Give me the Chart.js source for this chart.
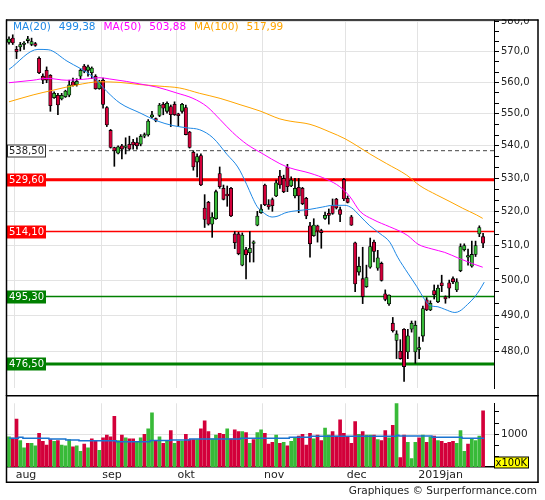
<!DOCTYPE html>
<html><head><meta charset="utf-8">
<script src="https://cdn.jsdelivr.net/npm/chart.js@4.4.1/dist/chart.umd.min.js"></script>
<style>
html,body{margin:0;padding:0;background:#fff;}
body{width:545px;height:500px;overflow:hidden;position:relative;}
canvas{position:absolute;left:0;}
#price{top:0}
#vol{top:395px}
</style></head><body>
<canvas id="price" width="545" height="396"></canvas>
<canvas id="vol" width="545" height="105"></canvas>
<script>
// ---------- DATA ----------
const opens = [
573.0,574.4,570.7,571.5,572.3,573.6,572.3,572.6,567.8,562.0,
563.9,562.3,555.1,555.9,554.7,555.4,555.9,560.2,559.3,562.0,
565.3,563.9,563.1,562.0,558.0,560.7,552.0,544.8,539.5,537.7,
540.0,539.5,540.5,541.2,541.0,540.5,543.0,543.4,549.0,548.5,
549.5,553.0,550.8,552.3,553.0,550.0,550.8,552.0,544.3,538.0,
535.0,537.0,521.1,522.8,516.3,517.9,531.5,527.0,525.3,527.0,
513.4,513.4,504.3,508.8,507.9,510.6,516.0,519.7,528.0,522.1,
523.6,524.7,530.7,530.0,533.5,527.7,524.7,527.3,527.0,524.0,
515.8,512.9,515.8,514.4,518.0,519.5,521.8,523.8,520.6,529.7,
524.0,518.5,510.8,502.3,500.4,498.1,503.7,511.0,503.4,504.8,
496.1,493.2,487.8,483.0,480.0,486.1,479.8,486.1,479.8,480.5,
484.2,494.4,491.5,497.0,493.8,499.2,495.2,499.2,500.4,497.2,
502.7,508.8,506.6,504.0,507.4,513.4,512.6];
const highs = [
574.8,575.5,571.7,573.0,573.3,575.0,574.4,573.0,568.3,562.8,
565.0,562.5,557.0,556.5,556.5,557.5,560.7,561.4,561.2,564.4,
565.8,565.6,565.0,562.5,560.7,561.4,552.3,545.1,539.6,540.0,
540.5,542.5,543.0,542.0,542.5,543.5,544.0,548.2,550.8,548.7,
553.3,553.6,553.8,552.8,553.8,550.2,553.3,552.8,544.5,538.5,
537.5,537.5,525.1,523.1,519.7,526.5,533.5,528.0,527.7,527.3,
514.1,513.9,513.7,509.5,514.1,511.4,520.1,522.1,528.3,523.6,
524.1,529.5,532.5,531.0,534.3,530.5,530.0,530.0,527.3,524.3,
516.8,517.9,516.0,514.8,519.9,520.8,523.8,524.0,521.4,530.0,
524.7,518.9,511.0,506.6,509.5,504.3,512.2,511.6,508.6,505.2,
497.2,495.8,489.4,485.7,483.2,486.3,486.1,488.4,488.4,483.9,
492.6,495.0,494.1,498.6,498.6,501.4,495.5,500.0,500.9,500.4,
510.5,510.5,509.0,511.3,511.3,515.8,513.6];
const lows = [
572.4,572.3,567.7,570.2,570.7,572.8,571.9,571.7,562.8,559.6,
559.9,550.8,554.9,549.7,554.4,555.2,555.4,558.8,558.8,561.2,
563.1,562.0,561.2,557.8,557.8,551.8,546.0,539.3,533.7,537.5,
536.0,537.5,538.7,539.0,539.0,540.0,542.5,543.0,548.7,547.5,
549.1,549.7,550.2,546.0,549.5,546.0,550.2,543.4,539.3,532.5,
530.5,527.8,515.3,516.0,512.4,517.7,527.0,523.5,521.6,518.5,
509.1,507.3,504.1,500.3,505.2,505.2,515.8,519.5,521.8,520.7,
520.1,524.5,527.0,525.7,526.0,527.5,524.1,519.7,522.1,517.9,
506.6,512.7,511.0,509.2,517.7,516.3,519.2,520.8,517.0,523.3,
522.6,515.9,496.7,501.4,493.3,497.9,503.4,505.2,502.8,499.7,
494.1,492.8,485.3,478.0,477.8,471.8,478.0,485.3,476.7,478.0,
482.7,491.3,491.3,494.6,493.6,496.7,493.4,494.9,499.0,496.7,
502.4,508.4,504.3,503.7,506.8,512.6,509.4];
const closes = [
574.1,572.8,569.9,572.3,572.8,574.2,573.3,572.0,563.1,560.7,
560.7,552.6,556.5,552.8,555.9,557.2,559.2,559.0,560.4,563.9,
563.6,565.0,564.6,558.0,560.2,553.0,546.5,539.5,538.5,539.7,
539.0,540.0,539.0,540.3,540.0,543.0,543.5,547.7,549.7,547.9,
552.8,551.8,553.3,549.7,549.7,549.4,553.0,543.5,539.5,533.5,
536.7,528.0,517.7,516.3,518.4,526.0,527.5,523.7,524.7,518.7,
510.8,507.6,513.1,507.3,509.2,511.1,518.7,520.8,522.1,521.4,
521.8,528.7,528.0,526.0,527.5,529.5,527.0,524.7,522.4,518.7,
510.5,516.0,514.3,513.8,518.9,518.9,519.5,521.1,519.2,523.8,
522.8,516.0,498.9,504.0,495.3,500.7,509.7,508.3,506.4,499.9,
494.5,495.7,485.7,484.8,478.0,475.8,484.3,487.8,487.2,481.0,
491.9,491.5,493.4,495.8,497.7,498.4,494.6,497.7,499.5,499.5,
509.7,510.0,507.1,507.4,510.0,515.3,510.7];
// volume in units of 100K
const volumes = [
940,913,1340,860,700,800,800,740,1020,840,
760,880,840,860,760,740,880,720,740,620,
780,700,900,860,640,920,980,940,1400,860,
980,920,900,900,840,920,1000,1120,1480,860,
940,800,850,1080,800,840,840,1000,880,880,
880,1120,1300,1060,900,980,1020,1000,1120,900,
1100,1060,1060,1040,800,880,1040,1100,1020,780,
820,980,800,820,740,840,920,960,1000,760,
1020,900,980,860,1140,980,1060,960,1320,1020,
940,800,1280,1000,1060,980,980,980,880,860,
1080,920,1200,1760,480,980,820,460,820,920,
980,820,940,960,860,840,800,820,840,800,
1080,620,780,900,860,960,1520];
const volUp = [
1,0,0,1,1,0,1,1,0,0,
0,0,1,0,1,1,1,0,1,1,
0,1,0,0,1,0,0,0,0,1,
0,1,0,0,1,1,0,1,1,0,
1,0,1,0,1,0,1,0,0,0,
1,0,0,0,1,1,0,0,1,0,
0,0,1,0,1,0,1,1,0,0,
0,1,0,1,0,1,1,0,0,0,
0,1,0,0,1,1,0,0,0,0,
0,0,0,1,0,1,1,0,1,0,
0,1,0,1,0,0,1,1,1,0,
1,0,1,0,1,0,0,0,0,1,
1,1,0,1,1,1,0];
// moving averages, read at sample sessions (x = session index)
const ma20X = [0,7.7,10.4,15.4,22.3,26.0,29.5,34.8,39.3,43.6,47.3,50.7,54.2,57.9,60.8,63.2,64.6,65.9,67.2,69.9,71.5,73.3,75.2,80.0,83.4,86.1,89.3,91.1,93.3,95.9,98.6,101.2,103.3,106.0,108.4,110.5,111.8,114.0,115.8,118.5,119.8,121.9,123.8,125.1,126.3];
const ma20Y = [564.2,570.7,570.6,566.9,561.8,557.1,553.4,550.3,547.8,546.3,545.6,545.0,542.5,537.4,533.5,528.1,524.5,521.6,520.1,518.4,518.7,519.6,520.1,520.7,521.4,521.9,521.9,521.1,518.7,515.8,513.5,511.0,506.6,502.0,498.1,494.4,492.8,492.4,491.7,490.8,491.2,493.1,495.2,497.2,499.4];
const ma50X = [0,6.4,10.1,15.4,19.7,24.2,26.8,31.3,34.8,39.3,44.6,48.9,52.6,56.1,59.5,63.2,67.5,72.0,74.7,80.0,84.5,87.9,90.6,93.3,96.7,101.2,103.9,106.0,108.7,112.4,115.8,119.3,123.0,125.9];
const ma50Y = [559.9,560.7,561.3,560.7,561.0,561.5,561.1,560.3,559.5,558.5,556.6,554.9,552.3,548.2,544.1,540.5,537.5,534.5,533.2,531.6,529.7,527.5,524.5,520.1,517.7,515.5,514.2,512.9,510.4,509.0,508.0,506.4,504.8,503.7];
const ma100X = [0,6.4,11.7,18.1,24.2,29.5,34.8,40.1,45.4,50.7,56.1,61.4,66.7,72.0,74.7,80.0,85.3,89.3,92.5,95.9,100.4,105.7,109.2,113.7,117.2,120.6,124.3,125.9];
const ma100Y = [553.8,556.0,557.5,559.2,560.2,560.0,559.3,558.8,558.2,556.5,554.9,552.9,550.9,548.4,547.7,546.7,544.3,542.2,540.0,537.5,534.5,531.0,527.8,525.0,523.0,521.0,519.0,518.0];
const volMaX = [0,2.5,3.7,10.6,15.1,18.6,28.5,37.5,43,48,61.5,74.5,80.3,103,103.6,112.4,120.4,126.3];
const volMaY = [913,933,913,893,873,853,833,858,873,893,913,933,955,980,960,933,913,913];
const monthLabels = ['aug','sep','okt','nov','dec','2019jan'];
const monthStart = [2,25,45,68,90,109];   // index of first session of each month
const priceTicks = [480,490,500,510,520,530,540,550,560,570,580];
const volTicks = [500,750,1000,1250,1500];
const volTickLabels = ['','','1000','',''];
const levels = [538.5,529.6,514.1,495.3,476.5];
const levelLabels = ['538,50','529,60','514,10','495,30','476,50'];
const legendNames = ['MA(20)','MA(50)','MA(100)'];
const legendValues = ['499,38','503,88','517,99'];

// ---------- STYLE ----------
const FONT = 'DejaVu Sans';
const GREEN = '#38ba38', RED = '#d3003a';
const maColors = ['#1e88e5','#ff00ff','#ffa500'];
const levelStyles = [
  {color:'#444', width:1, dash:[4,3], bg:'#fff', fg:'#222', border:'#333'},
  {color:'#ff0000', width:3, dash:[], bg:'#ff0000', fg:'#fff'},
  {color:'#ff0000', width:1.5, dash:[], bg:'#ff0000', fg:'#fff'},
  {color:'#008000', width:1.5, dash:[], bg:'#008000', fg:'#fff'},
  {color:'#008000', width:3, dash:[], bg:'#008000', fg:'#fff'}
];
const X_MIN = -0.53, X_MAX = 128.9;

const idx = opens.map((_, i) => i);
const pts = (xs, ys) => xs.map((x, i) => ({x, y: ys[i]}));
const wickData = idx.map(i => ({x: i, y: [lows[i], highs[i]]}));
const bodyData = idx.map(i => ({x: i, y: [opens[i], closes[i]]}));
const bodyColors = idx.map(i => closes[i] >= opens[i] ? GREEN : RED);
const volData = idx.map(i => ({x: i, y: volumes[i]}));
const volColors = idx.map(i => volUp[i] ? GREEN : RED);

const yTicks = [];
priceTicks.forEach((v, k) => {
  yTicks.push(v);
  if (k < priceTicks.length - 1) { const st = (priceTicks[k+1] - v) / 3; yTicks.push(v + st, v + 2*st); }
});
const isMajor = v => priceTicks.some(p => Math.abs(p - v) < 1e-6);
const monthTickVals = monthStart.map(m => m - 0.5);

function frameLines(ctx, segs) {
  ctx.save(); ctx.strokeStyle = '#000'; ctx.lineWidth = 1.5;
  segs.forEach(s => { ctx.beginPath(); ctx.moveTo(s[0], s[1]); ctx.lineTo(s[2], s[3]); ctx.stroke(); });
  ctx.restore();
}

const pricePlugin = {
  id: 'pricePlugin',
  beforeDatasetsDraw(chart) {
    const {ctx, chartArea: a, scales: {y}} = chart;
    ctx.save();
    levels.forEach((lv, k) => {
      const s = levelStyles[k], py = y.getPixelForValue(lv);
      ctx.strokeStyle = s.color; ctx.lineWidth = s.width; ctx.setLineDash(s.dash);
      ctx.beginPath(); ctx.moveTo(a.left, py); ctx.lineTo(a.right, py); ctx.stroke();
    });
    ctx.restore();
  },
  afterDatasetsDraw(chart) {
    const {ctx, chartArea: a, scales: {y}} = chart;
    ctx.save();
    ctx.font = '10px "' + FONT + '"'; ctx.textBaseline = 'middle'; ctx.textAlign = 'left';
    levels.forEach((lv, k) => {
      const s = levelStyles[k], py = Math.round(y.getPixelForValue(lv));
      const x0 = a.left, tw = ctx.measureText(levelLabels[k]).width;
      const w = Math.max(37, tw + 4), h = 13;
      ctx.fillStyle = s.bg; ctx.fillRect(x0, py - h/2, w, h);
      if (s.border) { ctx.strokeStyle = s.border; ctx.lineWidth = 1; ctx.strokeRect(x0 + 0.5, py - h/2 + 0.5, w - 1, h - 1); }
      ctx.fillStyle = s.fg; ctx.fillText(levelLabels[k], x0 + 2, py + 0.5);
    });
    // legend
    ctx.font = '10.5px "' + FONT + '"';
    let x = 13; const ly = 27.5;
    legendNames.forEach((nm, k) => {
      ctx.fillStyle = maColors[k];
      ctx.fillText(nm, x, ly); x += ctx.measureText(nm).width + 8;
      ctx.fillText(legendValues[k], x, ly); x += ctx.measureText(legendValues[k]).width + 8;
    });
    ctx.restore();
  },
  afterDraw(chart) {
    const ctx = chart.ctx;
    ctx.save(); ctx.fillStyle = '#fff'; ctx.fillRect(495, 0, 50, 19.3); ctx.restore();
    frameLines(ctx, [[6.5, 19.5, 6.5, 396], [6, 20, 538.5, 20], [538, 19.5, 538, 396]]);
  }
};

const volPlugin = {
  id: 'volPlugin',
  afterDraw(chart) {
    const ctx = chart.ctx;
    frameLines(ctx, [[6.5, 0, 6.5, 88], [6, 0.75, 538.5, 0.75], [538, 0, 538, 88], [6, 87.2, 538.5, 87.2]]);
    ctx.save();
    ctx.fillStyle = '#ffff00'; ctx.fillRect(494.5, 62, 34, 11);
    ctx.strokeStyle = '#000'; ctx.lineWidth = 1; ctx.strokeRect(494.5, 62, 34, 11);
    ctx.fillStyle = '#000'; ctx.font = '10px "' + FONT + '"'; ctx.textBaseline = 'middle'; ctx.textAlign = 'left';
    ctx.fillText('x100K', 495.5, 68);
    ctx.fillStyle = '#222'; ctx.font = '10.5px "' + FONT + '"'; ctx.textAlign = 'right';
    ctx.fillText('Graphiques \u00A9 Surperformance.com', 537, 96.5);
    ctx.restore();
  }
};

const xCommon = {
  type: 'linear', min: X_MIN, max: X_MAX, offset: false,
  afterBuildTicks: s => { s.ticks = monthTickVals.map(v => ({value: v})); },
  grid: {color: '#e3e3e3', lineWidth: 1, drawTicks: false, offset: false}
};

new Chart(document.getElementById('price'), {
  type: 'bar',
  data: { datasets: [
    {type: 'line', data: pts(ma20X, ma20Y), borderColor: maColors[0], borderWidth: 1, pointRadius: 0, cubicInterpolationMode: 'monotone', order: 0},
    {type: 'line', data: pts(ma50X, ma50Y), borderColor: maColors[1], borderWidth: 1, pointRadius: 0, cubicInterpolationMode: 'monotone', order: 0},
    {type: 'line', data: pts(ma100X, ma100Y), borderColor: maColors[2], borderWidth: 1, pointRadius: 0, cubicInterpolationMode: 'monotone', order: 0},
    {data: bodyData, backgroundColor: bodyColors, borderColor: '#000', borderWidth: 0.8, borderSkipped: false, barThickness: 3.4, grouped: false, order: 1},
    {data: wickData, backgroundColor: '#000', borderWidth: 0, barThickness: 1, grouped: false, order: 2}
  ]},
  options: {
    responsive: false, animation: false, events: [],
    layout: {padding: {left: 7, right: 7, top: 20, bottom: 1}},
    plugins: {legend: {display: false}, tooltip: {enabled: false}},
    scales: {
      x: Object.assign({}, xCommon, {
        ticks: {display: false},
        border: {display: false},
        afterFit: s => { s.height = 0; }
      }),
      y: {
        type: 'logarithmic', position: 'right', min: 470, max: 580.4,
        afterBuildTicks: s => { s.ticks = yTicks.map(v => ({value: v})); },
        afterFit: s => { s.width = 44; },
        ticks: {
          autoSkip: false, padding: 2, color: '#222',
          font: {family: FONT, size: 10},
          callback: v => isMajor(v) ? v.toFixed(1).replace('.', ',') : ''
        },
        grid: {
          color: c => (c.tick && isMajor(c.tick.value)) ? '#e3e3e3' : 'rgba(0,0,0,0)',
          tickColor: '#000', tickLength: 5, drawTicks: true, lineWidth: 1
        },
        border: {display: true, color: '#000', width: 1}
      }
    }
  },
  plugins: [pricePlugin]
});

new Chart(document.getElementById('vol'), {
  type: 'bar',
  data: { datasets: [
    {type: 'line', data: pts(volMaX, volMaY), borderColor: '#1a74d0', borderWidth: 1.5, pointRadius: 0, stepped: true, order: 0},
    {data: volData, backgroundColor: volColors, borderWidth: 0, barThickness: 3, grouped: false, order: 1}
  ]},
  options: {
    responsive: false, animation: false, events: [],
    layout: {padding: {left: 7, right: 7, top: 1, bottom: 18}},
    plugins: {legend: {display: false}, tooltip: {enabled: false}},
    scales: {
      x: Object.assign({}, xCommon, {
        afterFit: s => { s.height = 15; },
        ticks: {
          autoSkip: false, maxRotation: 0, align: 'start', labelOffset: 1, padding: 2,
          color: '#222', font: {family: FONT, size: 11},
          callback: (v, i) => monthLabels[i]
        },
        border: {display: true, color: '#000', width: 1.5}
      }),
      y: {
        type: 'linear', position: 'right', min: 270, max: 1690,
        afterBuildTicks: s => { s.ticks = volTicks.map(v => ({value: v})); },
        afterFit: s => { s.width = 44; },
        ticks: {
          autoSkip: false, padding: 2, color: '#222',
          font: {family: FONT, size: 10.5},
          callback: (v, i) => volTickLabels[i]
        },
        grid: {
          color: c => (c.tick && c.tick.value === 1000) ? '#e3e3e3' : 'rgba(0,0,0,0)',
          tickColor: '#000', tickLength: 5, drawTicks: true
        },
        border: {display: true, color: '#000', width: 1}
      }
    }
  },
  plugins: [volPlugin]
});
</script>
</body></html>
